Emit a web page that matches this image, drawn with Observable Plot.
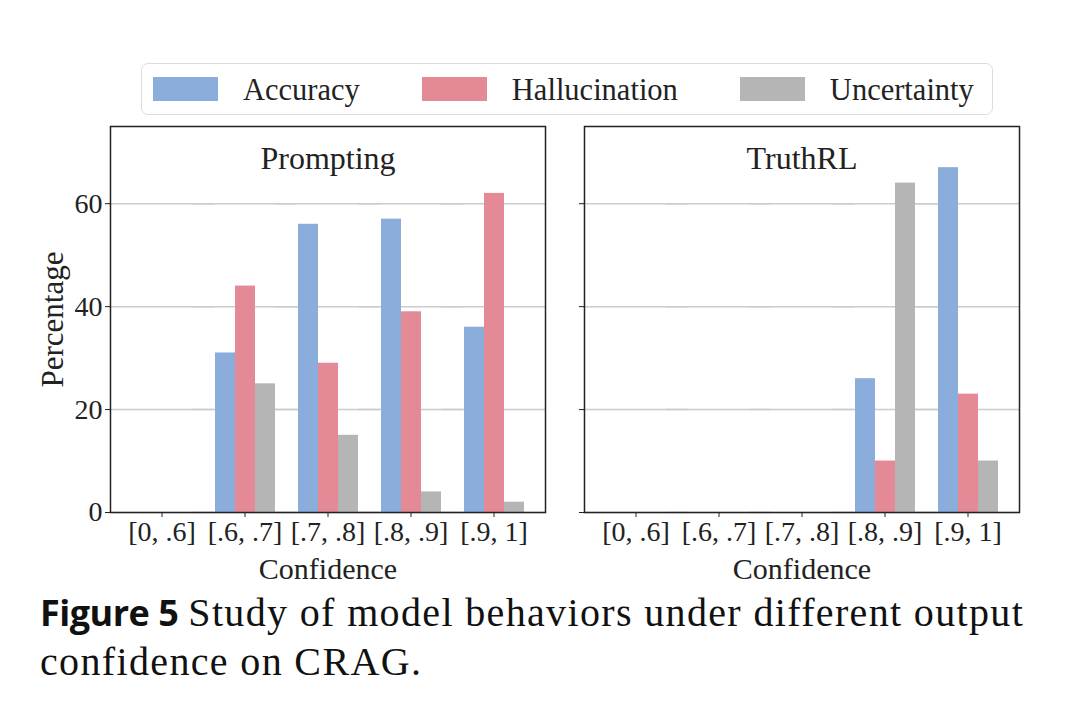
<!DOCTYPE html>
<html><head><meta charset="utf-8">
<script src="https://cdn.jsdelivr.net/npm/d3@7"></script>
<script src="https://cdn.jsdelivr.net/npm/@observablehq/plot@0.6"></script>
<style>
body{margin:0;background:#fff;width:1070px;height:702px;position:relative;overflow:hidden;font-family:"Liberation Serif",serif;color:#222;}
#legend{position:absolute;left:141px;top:63px;width:852px;height:52px;border:1.5px solid #dcdcdc;border-radius:7px;box-sizing:border-box;display:flex;align-items:center;padding-left:11px;}
.item{display:flex;align-items:center;margin-right:62px;}
.sw{width:65px;height:24px;margin-right:25px;}
.lt{font-size:30.5px;line-height:30px;position:relative;top:1px;}
#p1{position:absolute;left:0;top:120px;}
#p2{position:absolute;left:560px;top:120px;}
#cap{position:absolute;left:40px;top:588px;width:1030px;font-size:40px;line-height:49px;letter-spacing:1.35px;white-space:nowrap;color:#111;}
#cap b{font-family:"Open Sans",sans-serif;font-weight:700;font-size:36px;letter-spacing:-0.5px;margin-right:10px;}
</style></head>
<body>
<div id="legend"></div>
<div id="p1"></div>
<div id="p2"></div>
<div id="cap"><b>Figure 5</b>Study of model behaviors under different output<br>confidence on CRAG.</div>
<script>
const cats = ["[0, .6]", "[.6, .7]", "[.7, .8]", "[.8, .9]", "[.9, 1]"];
const series = ["Accuracy", "Hallucination", "Uncertainty"];
const colors = ["#8aaddb", "#e38a96", "#b5b5b5"];
const promptAcc = [0, 31, 56, 57, 36];
const promptHal = [0, 44, 29, 39, 62];
const promptUnc = [0, 25, 15, 4, 2];
const truthAcc = [0, 0, 0, 26, 67];
const truthHal = [0, 0, 0, 10, 23];
const truthUnc = [0, 0, 0, 64, 10];
const yTicks = [0, 20, 40, 60];
const yDomain = [0, 75];

const leg = document.getElementById("legend");
series.forEach((s, i) => {
  const it = document.createElement("div"); it.className = "item";
  const sw = document.createElement("div"); sw.className = "sw"; sw.style.background = colors[i];
  const t = document.createElement("span"); t.className = "lt"; t.textContent = s;
  it.appendChild(sw); it.appendChild(t); leg.appendChild(it);
});

const outer = 0.12;
function panel(title, vals, showLabels, w, ml, mr) {
  const data = cats.flatMap((c, i) => series.map((s, j) => ({cat: c, series: s, value: vals[j][i]})));
  const inner = w - ml - mr;
  const pad = inner * outer / (cats.length + 2 * outer);
  const marks = [
    Plot.gridY(yTicks, {stroke: "#cccccc", strokeOpacity: 1, strokeWidth: 1.5, insetLeft: -pad - 1, insetRight: -pad - 1}),
    Plot.barY(data, {fx: "cat", x: "series", y: "value", fill: "series"}),
    Plot.axisFx({anchor: "bottom", tickSize: 5, tickPadding: 4, label: null, fontSize: 28}),
    Plot.axisY(yTicks, {dx: -pad, tickSize: 5, tickPadding: 3, label: null, fontSize: 28, tickFormat: showLabels ? (d => d) : (() => "")}),
    Plot.frame({facet: "super", stroke: "#222", strokeWidth: 1.5, insetLeft: -pad, insetRight: -pad}),
    Plot.text([title], {facet: "super", frameAnchor: "top", dy: 20, fontSize: 32, fill: "#222"}),
    Plot.text(["Confidence"], {facet: "super", frameAnchor: "bottom", dy: 66, fontSize: 30, fill: "#222"})
  ];
  if (showLabels) marks.push(Plot.text(["Percentage"], {facet: "super", frameAnchor: "left", textAnchor: "middle", lineAnchor: "middle", dx: -57 - pad, rotate: -90, fontSize: 31, fill: "#222"}));
  return Plot.plot({
    width: w, height: 462, marginTop: 6, marginBottom: 70, marginLeft: ml, marginRight: mr,
    style: {fontFamily: "Liberation Serif", fontSize: "28px", color: "#222", background: "transparent", overflow: "visible"},
    fx: {domain: cats, paddingInner: 0, paddingOuter: outer},
    x: {domain: series, paddingInner: 0, paddingOuter: 0.5, axis: null},
    y: {domain: yDomain, axis: null},
    color: {domain: series, range: colors},
    marks
  });
}
document.getElementById("p1").appendChild(panel("Prompting", [promptAcc, promptHal, promptUnc], true, 560, 109, 14));
document.getElementById("p2").appendChild(panel("TruthRL", [truthAcc, truthHal, truthUnc], false, 510, 23, 50));
</script>
</body></html>
